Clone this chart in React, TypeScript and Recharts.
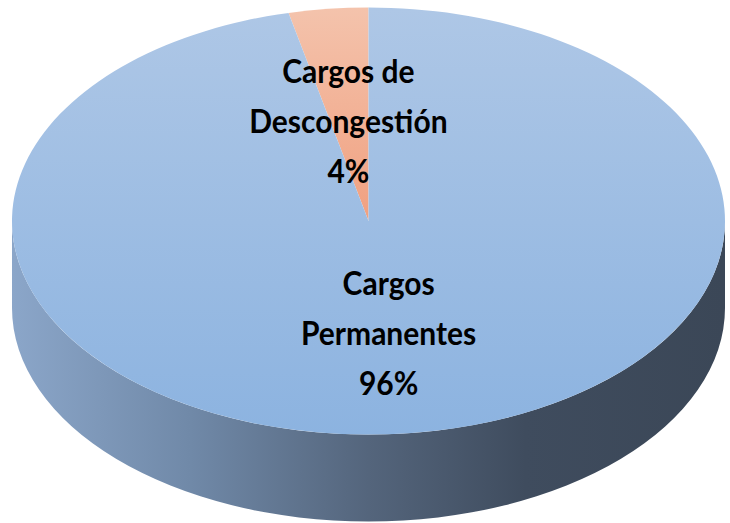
import { PieChart, Pie } from "recharts";

const categories = ["Cargos de Descongestión", "Cargos Permanentes"];
const shares = [3.6, 96.4];

const data = categories.map((name, i) => ({ name, value: shares[i] }));

// geometry of the tilted (3d-looking) pie
const CX = 368.5;
const CY = 221;
const RX = 356.5;
const TILT = 0.599;
const DEPTH = 87;
const RAD = Math.PI / 180;

const TOP_FILLS = ["url(#topOrange)", "url(#topBlue)"];

function pt(cx: number, cy: number, r: number, a: number, dy = 0) {
  return [cx + r * Math.cos(a * RAD), cy - r * TILT * Math.sin(a * RAD) + dy];
}

function wrap(name: string, max = 10) {
  const lines: string[] = [];
  let cur = "";
  name.split(" ").forEach((w) => {
    if (cur && (cur + " " + w).length > max) {
      lines.push(cur);
      cur = w;
    } else {
      cur = cur ? cur + " " + w : w;
    }
  });
  if (cur) lines.push(cur);
  return lines;
}

// side wall, only for the part of the slice that faces the viewer
function renderSide(p: any) {
  const { cx, cy, outerRadius: r, startAngle, endAngle } = p;
  const s = Math.min(startAngle, endAngle);
  const e = Math.max(startAngle, endAngle);
  const paths: string[] = [];
  [180, 540].forEach((k) => {
    const lo = Math.max(s, k);
    const hi = Math.min(e, k + 180);
    if (hi <= lo) return;
    const ry = r * TILT;
    const [x0, y0] = pt(cx, cy, r, lo);
    const [x1, y1] = pt(cx, cy, r, hi);
    paths.push(
      `M${x0},${y0} A${r},${ry} 0 0 0 ${x1},${y1} L${x1},${y1 + DEPTH} A${r},${ry} 0 0 1 ${x0},${y0 + DEPTH} Z`
    );
  });
  if (!paths.length) return <g />;
  return <path d={paths.join(" ")} fill="url(#side)" stroke="none" />;
}

function renderTop(p: any) {
  const { cx, cy, outerRadius: r, startAngle, endAngle, index } = p;
  const ry = r * TILT;
  const [x0, y0] = pt(cx, cy, r, startAngle);
  const [x1, y1] = pt(cx, cy, r, endAngle);
  const large = Math.abs(endAngle - startAngle) > 180 ? 1 : 0;
  const sweep = endAngle > startAngle ? 0 : 1;
  return (
    <path
      d={`M${cx},${cy} L${x0},${y0} A${r},${ry} 0 ${large} ${sweep} ${x1},${y1} Z`}
      fill={TOP_FILLS[index]}
      stroke="none"
    />
  );
}

function renderText(p: any) {
  const { cx, cy, outerRadius: r, midAngle, name, percent } = p;
  const [x, y] = pt(cx, cy, r * 0.5, midAngle);
  const lines = [...wrap(name), Math.round(percent * 100) + "%"];
  const mid = (lines.length - 1) / 2;
  return (
    <g>
      {lines.map((l, i) => {
        const by = y + 18 + (i - mid) * 50;
        return (
          <text
            key={i}
            x={x}
            y={by}
            textAnchor="middle"
            fill="#000"
            fontFamily="Lato, 'Noto Sans', sans-serif"
            fontWeight="bold"
            fontSize={30}
            transform={`translate(0 ${by}) scale(1 1.08) translate(0 ${-by})`}
          >
            {l}
          </text>
        );
      })}
    </g>
  );
}

export default function App() {
  const pieProps = {
    data,
    dataKey: "value",
    nameKey: "name",
    cx: CX,
    cy: CY,
    outerRadius: RX,
    startAngle: 90,
    endAngle: 450,
    fill: "none",
    stroke: "none",
    labelLine: false,
    isAnimationActive: false,
  };
  return (
    <div style={{ position: "absolute", left: 0, top: 0, width: 730, height: 523, background: "#fff" }}>
      <PieChart width={730} height={523} margin={{ top: 0, right: 0, bottom: 0, left: 0 }}>
        <defs>
          <linearGradient id="side" gradientUnits="userSpaceOnUse" x1={12} y1={0} x2={725} y2={0}>
            <stop offset="0" stopColor="#8ba6c9" />
            <stop offset="0.25" stopColor="#7089a8" />
            <stop offset="0.5" stopColor="#54657c" />
            <stop offset="0.72" stopColor="#3f4c5e" />
            <stop offset="1" stopColor="#3b4757" />
          </linearGradient>
          <linearGradient id="topBlue" gradientUnits="userSpaceOnUse" x1={0} y1={8} x2={0} y2={435}>
            <stop offset="0" stopColor="#aec7e6" />
            <stop offset="1" stopColor="#8cb3e0" />
          </linearGradient>
          <linearGradient id="topOrange" gradientUnits="userSpaceOnUse" x1={0} y1={8} x2={0} y2={221}>
            <stop offset="0" stopColor="#f4c3ac" />
            <stop offset="1" stopColor="#f0a080" />
          </linearGradient>
        </defs>
        <Pie {...pieProps} label={renderSide} />
        <Pie {...pieProps} label={renderTop} />
        <Pie {...pieProps} label={renderText} />
      </PieChart>
    </div>
  );
}
